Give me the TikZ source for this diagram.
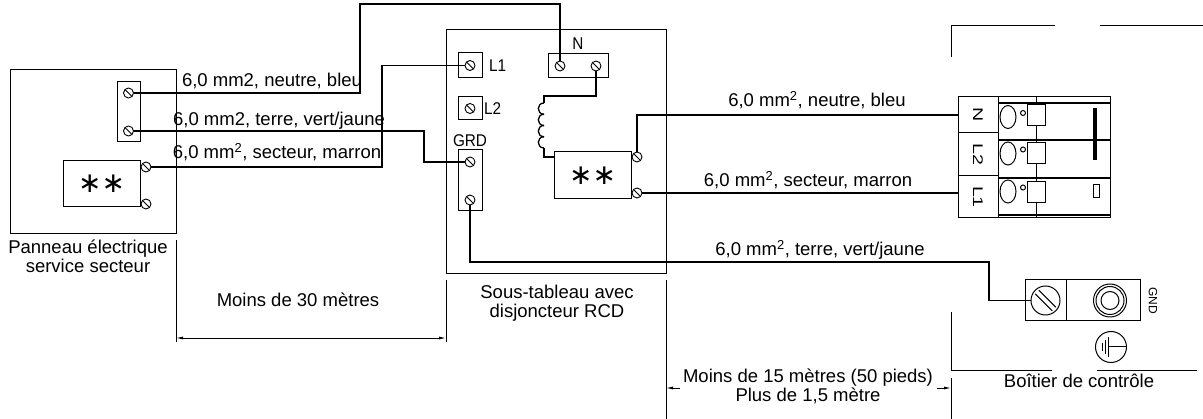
\documentclass[tikz,border=0pt]{standalone}
\usepackage{fontspec}
\setmainfont{Liberation Sans}
\newfontfamily\stretchfont[FakeStretch=1.4]{Liberation Sans}
\newfontfamily\narrowfont[FakeStretch=0.9]{Liberation Sans}
\newfontfamily\symfont{DejaVu Sans}
\usetikzlibrary{positioning, arrows.meta, calc}
\tikzstyle{wire} = [line width=1.3pt]
\tikzstyle{boxline} = [draw, line width=1pt]
\tikzstyle{screw} = [circle, draw, line width=0.9pt, minimum size=10pt, inner sep=0pt, fill=white, path picture={\draw[line width=0.9pt] (path picture bounding box.north west) -- (path picture bounding box.south east);}]
\tikzstyle{wirelabel} = [font=\fontsize{18.5}{19}\selectfont, inner sep=0pt, anchor=base]
\tikzstyle{termlabel} = [font=\fontsize{17}{17}\narrowfont, inner sep=0pt]
\tikzstyle{rotlabel} = [font=\fontsize{14}{14}\stretchfont, inner sep=0pt, rotate=-90]
\tikzstyle{stars} = [font=\fontsize{28}{28}\symfont]
\tikzstyle{dimarrow} = [line width=0.8pt, >={Latex[length=7pt,width=3pt]}]

\begin{document}
\begin{tikzpicture}[x=1pt, y=-1pt, line width=1pt]
    \useasboundingbox (0,0) rectangle (1203,419);

    % Panneau electrique
    \node[boxline, minimum width=166pt, minimum height=164pt] (lp) at (93,152) {};
    \node[boxline, minimum width=23pt, minimum height=60pt] (lpStrip) at (128.5,112) {};
    \node[screw] (lpN) at (128.5,93) {};
    \node[screw] (lpG) at (128.5,131) {};
    \node[boxline, stars, minimum width=77pt, minimum height=46pt] (lpBrk) at (101.5,184) {∗∗};
    \node[screw] (lpBrkA) at (146,167) {};
    \node[screw] (lpBrkB) at (146,204) {};
    \node[wirelabel, align=center] at (88,273) {Panneau électrique\\service secteur};

    % Sous-tableau
    \node[boxline, minimum width=220pt, minimum height=244pt] (rcd) at (556,152) {};
    \node[boxline, minimum width=24pt, minimum height=25pt] (rcdL1) at (470,65.5) {};
    \node[screw] (rcdL1s) at (470,65.5) {};
    \node[termlabel, right=6pt of rcdL1] {L1};
    \node[boxline, minimum width=24pt, minimum height=23pt] (rcdL2) at (470,108.5) {};
    \node[screw] (rcdL2s) at (470,108.5) {};
    \node[termlabel, right=1pt of rcdL2] {L2};
    \node[boxline, minimum width=60pt, minimum height=24pt] (rcdN) at (578,66) {};
    \node[screw] (rcdNa) at (560,66) {};
    \node[screw] (rcdNb) at (596,66) {};
    \node[termlabel, above=3pt of rcdN] {N};
    \node[boxline, minimum width=24pt, minimum height=61pt] (rcdGRD) at (470,180.5) {};
    \node[screw] (rcdGa) at (470,162) {};
    \node[screw] (rcdGb) at (470,200) {};
    \node[termlabel, above=2pt of rcdGRD] {GRD};
    % bobine
    \coordinate (coilIn) at (544,96);
    \coordinate (coilTop) at (544,103);
    \coordinate (coilBot) at (544,148);
    \coordinate (coilOut) at (544,157);
    \foreach \k in {0,...,3}
        \draw[wire] (544,{103+11.25*\k}) .. controls (536.4,{103+11.25*\k}) and (536.4,{114.25+11.25*\k}) .. (544,{114.25+11.25*\k});
    \node[boxline, stars, minimum width=77pt, minimum height=47pt] (rcdBrk) at (592.5,175.5) {∗∗};
    \node[screw] (rcdBrkA) at (637,157) {};
    \node[screw] (rcdBrkB) at (637,193) {};
    \node[wirelabel, align=center] at (557,318) {Sous-tableau avec\\disjoncteur RCD};

    % Boitier de controle
    \draw (951,57) -- (951,26) -- (1055,26);
    \draw (1100,26) -- (1203,26);
    \draw (951,312) -- (951,371) -- (1052,371);
    \draw (1097,371) -- (1197,371);
    \node[wirelabel] at (1079,388) {Boîtier de contrôle};

    % bornier
    \node[boxline, minimum width=40pt, minimum height=36pt] (rtN) at (978,115) {};
    \node[boxline, minimum width=40pt, minimum height=43pt] (rtL2) at (978,154.5) {};
    \node[boxline, minimum width=40pt, minimum height=42pt] (rtL1) at (978,197) {};
    \node[rotlabel] at (rtN) {N};
    \node[rotlabel] at (rtL2) {L2};
    \node[rotlabel] at (rtL1) {L1};
    \draw (998,97) rectangle (1110,218);
    \draw (1036,97) -- (1036,218);
    \foreach \y in {103,140,178,215}
        \draw[line width=1.4pt] (998,\y) -- (1110,\y);
    \foreach \y/\s in {117/115.5, 153.5/153.5, 191.5/192.5} {
        \draw (1008,\y) ellipse [x radius=8, y radius=11.5];
        \draw (1023,\y-4) circle [radius=2.5];
        \draw[fill=white] (1027,\s-10.5) rectangle (1045,\s+10.5);
    }
    \draw[line width=4pt] (1095,108) -- (1095,160);
    \draw (1093,185) rectangle (1099,198);

    % terre
    \node[boxline, minimum width=41pt, minimum height=41pt] (gndCell) at (1045.5,300.5) {};
    \node[boxline, minimum width=74pt, minimum height=41pt] (gndPlug) at (1103,300.5) {};
    \node[circle, draw, minimum size=29pt, inner sep=0pt] (gndScrew) at (gndCell) {};
    \draw ($(gndScrew)+(-6.7,-10.3)$) -- ++(17,17);
    \draw ($(gndScrew)+(-10.3,-6.7)$) -- ++(17,17);
    \foreach \r in {16.5,14,9}
        \draw (1110,300.5) circle [radius=\r];
    \node[font=\fontsize{12}{12}\selectfont, rotate=-90, inner sep=0pt] at (1153,300.5) {GND};
    \node[circle, draw, minimum size=31pt, inner sep=0pt] (pe) at (1111,347) {};
    \draw (pe.east) -- (1108,347);
    \draw (1108,337) -- (1108,357);
    \draw (1105,340) -- (1105,354);
    \draw (1102,343) -- (1102,351);

    % Cables
    \coordinate (nUp) at (360,4);
    \coordinate (gBend) at (424,131);
    \coordinate (sBend) at (382,167);
    \coordinate (eBend) at (989,262);
    \draw[wire] (lpN.east) -| (nUp) -| (rcdNa.north);
    \draw[wire] (lpG.east) -- (gBend) |- (rcdGa.west);
    \draw[wire] (lpBrkA.east) -- (sBend) |- (rcdL1s.west);
    \draw[wire] (rcdNb.south) |- (coilIn) -- (coilTop);
    \draw[wire] (coilBot) -- (coilOut) -- (coilOut -| rcdBrk.west);
    \draw[wire] (rcdBrkA.north) |- (rtN.west);
    \draw[wire] (rcdBrkB.east) -- (rcdBrkB.east -| rtL1.west);
    \draw[wire] (rcdGb.south) |- (eBend) |- (gndScrew.west);

    \node[wirelabel] at (272,87) {6,0 mm2, neutre, bleu};
    \node[wirelabel] at (279,126) {6,0 mm2, terre, vert/jaune};
    \node[wirelabel] at (277,159) {6,0 mm\textsuperscript{2}, secteur, marron};
    \node[wirelabel] at (817,107) {6,0 mm\textsuperscript{2}, neutre, bleu};
    \node[wirelabel] at (808,187) {6,0 mm\textsuperscript{2}, secteur, marron};
    \node[wirelabel] at (820,256) {6,0 mm\textsuperscript{2}, terre, vert/jaune};

    % Cotes
    \draw (176,240) -- (176,342);
    \draw (446,280) -- (446,342);
    \coordinate (d30a) at (176,338);
    \coordinate (d30b) at (446,338);
    \draw[dimarrow, <->] (d30a) -- (d30b);
    \node[wirelabel] at (298,307) {Moins de 30 mètres};
    \draw (666,280) -- (666,419);
    \draw (951,378) -- (951,419);
    \coordinate (d15a) at (666,388);
    \coordinate (d15b) at (951,388);
    \draw[dimarrow, ->] ($(d15a)+(14,0)$) -- (d15a);
    \draw[dimarrow, ->] ($(d15b)+(-14,0)$) -- (d15b);
    \node[wirelabel, align=center] at (808,402) {Moins de 15 mètres (50 pieds)\\Plus de 1,5 mètre};
\end{tikzpicture}
\end{document}
